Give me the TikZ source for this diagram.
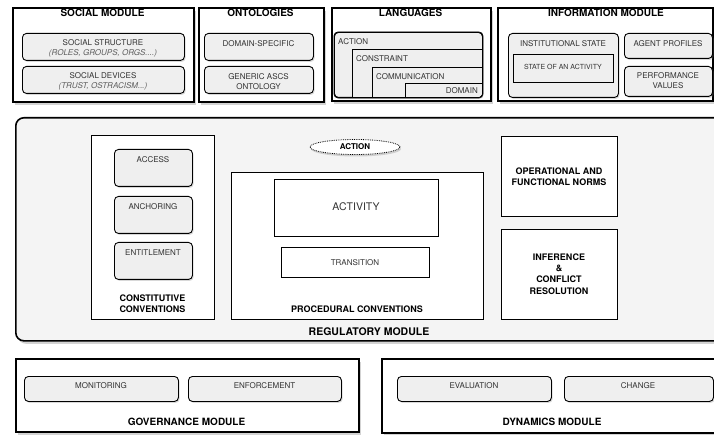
\documentclass[tikz,border=0pt]{standalone}
\usepackage{fontspec}
\setmainfont{TeX Gyre Heros}
\usetikzlibrary{shadows,shapes.geometric}
\definecolor{partgray}{HTML}{EFEFEF}
\definecolor{reggray}{HTML}{F4F4F4}
\definecolor{textgray}{HTML}{333333}
\definecolor{notegray}{HTML}{5E5E5E}
\tikzset{
  module/.style={draw, line width=1.6pt, fill=white, anchor=north west, inner sep=0pt,
    drop shadow={shadow xshift=2pt, shadow yshift=-3pt, opacity=0.35}},
  part/.style={draw, line width=0.9pt, rounded corners=4pt, fill=partgray, anchor=north west,
    inner sep=0pt, drop shadow={shadow xshift=1.2pt, shadow yshift=-1.5pt, opacity=0.3}},
  panel/.style={draw, line width=1.3pt, fill=white, anchor=north west, inner sep=0pt},
  lang/.style={draw, line width=0.8pt, fill=partgray, anchor=north west, inner sep=0pt},
  title/.style={font=\bfseries\fontsize{10}{11}\selectfont, inner sep=0pt},
  subtitle/.style={font=\bfseries\fontsize{9}{11}\selectfont, inner sep=0pt, align=center},
  txt/.style={font=\fontsize{8}{10}\selectfont, text=textgray, inner sep=0pt, align=center}
}
\begin{document}
\begin{tikzpicture}[x=1pt, y=-1pt]
\useasboundingbox (0,0) rectangle (714,435);
% top row
\node[module, minimum width=181pt, minimum height=94pt] (social) at (12,7) {};
\node[title] (socialtitle) at (102.5,13) {SOCIAL MODULE};
\node[part, minimum width=162pt, minimum height=27pt] (structure) at (22,33) {};
\node[txt] (structuretxt) at (103,48) {SOCIAL STRUCTURE\\\textcolor{notegray}{\itshape (ROLES, GROUPS, ORGS....)}};
\node[part, minimum width=162pt, minimum height=27pt] (devices) at (22,66) {};
\node[txt] (devicestxt) at (103,81) {SOCIAL DEVICES\\\textcolor{notegray}{\itshape (TRUST, OSTRACISM...)}};

\node[module, minimum width=125pt, minimum height=94pt] (ontologies) at (198,7) {};
\node[title] (ontotitle) at (260.5,13) {ONTOLOGIES};
\node[part, minimum width=109pt, minimum height=27pt] (domainspec) at (204,33) {};
\node[txt] (domainspectxt) at (258.5,44) {DOMAIN-SPECIFIC};
\node[part, minimum width=109pt, minimum height=27pt] (generic) at (204,66) {};
\node[txt] (generictxt) at (258.5,81.5) {GENERIC ASCS\\ONTOLOGY};

\node[module, minimum width=159pt, minimum height=93pt] (languages) at (331,7) {};
\node[title] (langtitle) at (410.5,13) {LANGUAGES};
\node[part, minimum width=148pt, minimum height=65pt] (action) at (334,32) {};
\begin{scope}
\clip[rounded corners=4pt] (334,32) rectangle (482,97);
\node[lang, minimum width=130pt, minimum height=48pt] (constraint) at (352,49) {};
\node[lang, minimum width=110pt, minimum height=30pt] (communication) at (372,67) {};
\node[lang, minimum width=77pt, minimum height=14pt] (domain) at (405,83) {};
\end{scope}
\draw[line width=0.9pt, rounded corners=4pt] (action.north west) rectangle (action.south east);
\node[txt, anchor=west] (actiontxt) at (338,42) {ACTION};
\node[txt, anchor=west] (constrainttxt) at (356,59) {CONSTRAINT};
\node[txt, anchor=west] (communicationtxt) at (376,77) {COMMUNICATION};
\node[txt, anchor=east] (domaintxt) at (478,90.5) {DOMAIN};

\node[module, minimum width=215pt, minimum height=93pt] (information) at (497,7) {};
\node[title] (infotitle) at (606,13) {INFORMATION MODULE};
\node[part, minimum width=110pt, minimum height=64pt] (institutional) at (508,33) {};
\node[txt] (institutionaltxt) at (563,43.5) {INSTITUTIONAL STATE};
\node[lang, line width=1pt, minimum width=100pt, minimum height=28pt] (stateact) at (513,54) {};
\node[txt, font=\fontsize{7}{9}\selectfont] (stateacttxt) at (563,67) {STATE OF AN ACTIVITY};
\node[part, minimum width=88pt, minimum height=25pt] (profiles) at (624,33) {};
\node[txt] (profilestxt) at (668,43.5) {AGENT PROFILES};
\node[part, minimum width=88pt, minimum height=30pt] (performance) at (624,66) {};
\node[txt] (performancetxt) at (668,81) {PERFORMANCE\\VALUES};

% regulatory module
\node[module, rounded corners=8pt, fill=reggray, minimum width=720pt, minimum height=223pt] (regulatory) at (15,117) {};
\node[title, font=\bfseries\fontsize{10.5}{12}\selectfont] (regtitle) at (369,332) {REGULATORY MODULE};

\node[panel, minimum width=123pt, minimum height=184pt] (constitutive) at (91,135) {};
\foreach \name/\y in {ACCESS/149, ANCHORING/196, ENTITLEMENT/242}{
  \node[part, minimum width=78pt, minimum height=37pt] (\name) at (114,\y) {};
  \node[txt] (\name txt) at (153,\y+10.5) {\name};
}
\node[subtitle] (constitutivetxt) at (152.5,303.5) {CONSTITUTIVE\\CONVENTIONS};

\node[panel, minimum width=252pt, minimum height=147pt] (procedural) at (231,172) {};
\node[panel, minimum width=164pt, minimum height=57pt] (activity) at (274,179) {};
\node[txt, font=\fontsize{10.5}{12}\selectfont] (activitytxt) at (356,207) {ACTIVITY};
\node[panel, minimum width=148pt, minimum height=30pt] (transition) at (281,247) {};
\node[txt] (transitiontxt) at (355,263) {TRANSITION};
\node[subtitle] (proceduraltxt) at (357,309) {PROCEDURAL CONVENTIONS};

\node[ellipse, draw, densely dotted, line width=0.8pt, fill=white, minimum width=90pt, minimum height=15pt,
  inner sep=0pt, font=\bfseries\fontsize{8}{9}\selectfont,
  drop shadow={shadow xshift=1pt, shadow yshift=-2pt, opacity=0.3}] (actionnode) at (355,147) {ACTION};

\node[panel, minimum width=116pt, minimum height=80pt] (operational) at (501,136) {};
\node[subtitle] (operationaltxt) at (559,176.5) {OPERATIONAL AND\\FUNCTIONAL NORMS};
\node[panel, minimum width=116pt, minimum height=90pt] (inference) at (501,229) {};
\node[subtitle, font=\bfseries\fontsize{9}{11.3}\selectfont] (inferencetxt) at (559,274) {INFERENCE\\\&\\CONFLICT\\RESOLUTION};

% bottom row
\node[module, minimum width=343pt, minimum height=73pt] (governance) at (15,358) {};
\node[part, minimum width=154pt, minimum height=25pt] (monitoring) at (24,376) {};
\node[txt] (monitoringtxt) at (101,385.5) {MONITORING};
\node[part, minimum width=153pt, minimum height=25pt] (enforcement) at (188,376) {};
\node[txt] (enforcementtxt) at (264.5,385.5) {ENFORCEMENT};
\node[title] (govtitle) at (186.5,422) {GOVERNANCE MODULE};

\node[module, minimum width=360pt, minimum height=74pt] (dynamics) at (381,358) {};
\node[part, minimum width=154pt, minimum height=25pt] (evaluation) at (397,376) {};
\node[txt] (evaluationtxt) at (474,385.5) {EVALUATION};
\node[part, minimum width=149pt, minimum height=25pt] (change) at (564,376) {};
\node[txt] (changetxt) at (638,385.5) {CHANGE};
\node[title] (dyntitle) at (552,422) {DYNAMICS MODULE};
\end{tikzpicture}
\end{document}
